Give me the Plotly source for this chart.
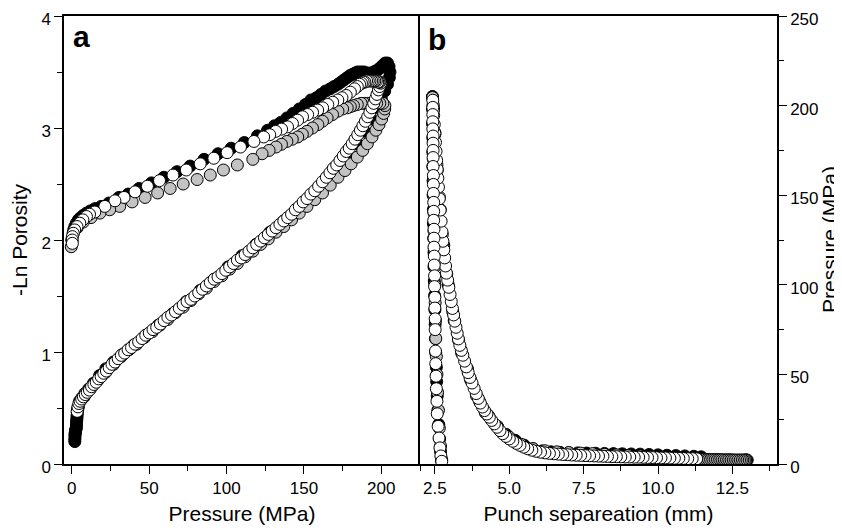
import plotly.graph_objects as go

# ---------------- Panel a : -Ln Porosity vs Pressure (MPa) ----------------
# black series
a_black_load_p = [2.0, 2.0, 2.1, 2.1, 2.2, 2.3, 2.4, 2.5, 2.7, 2.9, 3.0, 3.1, 3.2, 3.3, 3.4, 3.5, 3.6, 3.8,
                  4.2, 5, 6.5, 8.5, 11, 14, 18, 22, 27, 33, 40, 48, 56, 65, 74, 83, 92, 101, 110, 119, 128,
                  137, 146, 155, 163, 171, 178, 184, 189, 193.5, 197, 200, 202.2, 204, 205.2, 205.6]
a_black_load_y = [0.20, 0.22, 0.24, 0.26, 0.27, 0.28, 0.29, 0.30, 0.31, 0.32, 0.34, 0.36, 0.38, 0.40, 0.42, 0.44, 0.46, 0.48,
                  0.51, 0.56, 0.59, 0.63, 0.67, 0.72, 0.79, 0.85, 0.91, 0.98, 1.06, 1.15, 1.24, 1.34, 1.45, 1.55, 1.65, 1.76, 1.86, 1.96, 2.07,
                  2.17, 2.28, 2.39, 2.51, 2.62, 2.74, 2.86, 2.97, 3.08, 3.18, 3.26, 3.33, 3.39, 3.45, 3.50]
a_black_unload_p = [205.0, 204.0, 202.5, 201, 199.5, 198, 196.5, 195, 193.5, 192, 190.5, 189, 187.5, 186, 184.5, 183,
                    181.5, 180, 178, 176, 174, 172, 169.5, 167, 164, 161, 158, 154.5, 151, 147, 143, 139, 135, 131,
                    126.5, 120, 111.5, 103, 94.5, 85.5, 76.5, 68, 59.5, 51.5, 43.5, 36.5, 30.5, 24, 19, 15, 12, 9.5,
                    7.5, 5.8, 4.3, 3.0, 2.0, 1.3]
a_black_unload_y = [3.55, 3.58, 3.58, 3.56, 3.54, 3.52, 3.51, 3.50, 3.49, 3.49, 3.49, 3.50, 3.50, 3.50, 3.50, 3.49,
                    3.48, 3.47, 3.45, 3.43, 3.41, 3.39, 3.37, 3.35, 3.33, 3.30, 3.27, 3.25, 3.21, 3.17, 3.13, 3.09, 3.05, 3.02,
                    2.98, 2.93, 2.87, 2.82, 2.77, 2.72, 2.66, 2.61, 2.56, 2.51, 2.46, 2.41, 2.38, 2.33, 2.30, 2.28, 2.26, 2.24,
                    2.22, 2.20, 2.18, 2.15, 2.12, 2.09]

# grey series
a_grey_load_p = [4, 8, 12, 17, 22, 27, 32, 37, 42, 47, 52, 57, 62, 67, 72, 77, 82, 87, 92, 97, 102, 107, 112, 117,
                 122, 127, 132, 137, 142, 147, 152, 157, 162, 167, 172, 176.5, 180.5, 184.5, 188, 191, 194, 196.5,
                 198.5, 200.2, 201.5, 202.2, 202.3]
a_grey_load_y = [0.50, 0.60, 0.67, 0.75, 0.82, 0.89, 0.96, 1.02, 1.07, 1.13, 1.18, 1.24, 1.29, 1.35, 1.40, 1.46, 1.52,
                 1.57, 1.63, 1.68, 1.74, 1.79, 1.85, 1.90, 1.96, 2.01, 2.07, 2.12, 2.18, 2.24, 2.30, 2.36, 2.42, 2.49,
                 2.56, 2.62, 2.68, 2.74, 2.80, 2.86, 2.92, 2.98, 3.03, 3.08, 3.13, 3.17, 3.20]
a_grey_unload_p = [201, 199, 197, 195, 193, 191, 189, 187, 184.5, 182, 180, 178, 175, 172, 168.5, 165, 162, 159,
                   155.5, 152, 149, 146, 142.5, 139, 135.5, 132, 127.5, 123, 117, 107, 98, 89.5, 81, 72, 63.6, 55.5,
                   47.4, 39, 31, 24.5, 18.2, 12.5, 7.4, 3.5, 0.9, 0.0, -0.3]
a_grey_unload_y = [3.22, 3.22, 3.22, 3.22, 3.22, 3.22, 3.22, 3.22, 3.21, 3.20, 3.19, 3.18, 3.17, 3.15, 3.12, 3.09, 3.06, 3.03,
                   3.00, 2.97, 2.945, 2.92, 2.90, 2.88, 2.855, 2.83, 2.80, 2.77, 2.72, 2.67, 2.625, 2.58, 2.54, 2.50, 2.46, 2.42,
                   2.38, 2.34, 2.30, 2.27, 2.24, 2.20, 2.16, 2.11, 2.06, 2.00, 1.94]

# white (open) series
a_white_load_p = [3.5, 4.0, 4.6, 5.4, 6.4, 7.5, 8.7, 10.0, 11.4, 12.8, 14.3, 15.8, 17.4, 19.0, 20.7, 22.4, 24.2, 26.0,
                  28.0, 30.0, 32.0, 34.2, 36.4, 38.6, 40.9, 43.2, 45.5, 47.8, 50.1, 52.5, 54.9, 57.3, 59.7, 62.1, 64.5,
                  67.0, 69.5, 72.0, 74.5, 77.0, 79.5, 82.0, 84.5, 87.0, 89.5, 92.0, 94.5, 97.0, 99.5, 102.0, 104.5,
                  107.0, 109.5, 112.0, 114.5, 117.0, 119.5, 122.0, 124.5, 127.0, 129.5, 132.0, 134.5, 137.0, 139.5,
                  142.0, 144.5, 147.0, 149.5, 152.0, 154.5, 157.0, 159.5, 162.0, 164.5, 166.8, 169.0, 171.2, 173.3,
                  175.4, 177.4, 179.3, 181.2, 183.0, 184.8, 186.5, 188.1, 189.7, 191.2, 192.6, 193.9, 195.1, 196.2,
                  197.2, 198.1, 198.9, 199.7]
a_white_load_y = [0.47, 0.51, 0.54, 0.56, 0.58, 0.60, 0.62, 0.64, 0.66, 0.69, 0.71, 0.73, 0.76, 0.78, 0.81, 0.83, 0.86, 0.89,
                  0.91, 0.94, 0.97, 0.99, 1.02, 1.04, 1.07, 1.09, 1.12, 1.15, 1.17, 1.20, 1.22, 1.25, 1.28, 1.31, 1.33,
                  1.36, 1.39, 1.42, 1.45, 1.47, 1.50, 1.53, 1.56, 1.59, 1.62, 1.65, 1.67, 1.70, 1.73, 1.76, 1.79,
                  1.82, 1.84, 1.87, 1.90, 1.93, 1.96, 1.99, 2.02, 2.05, 2.08, 2.11, 2.14, 2.17, 2.20,
                  2.23, 2.27, 2.30, 2.34, 2.37, 2.41, 2.44, 2.48, 2.52, 2.56, 2.60, 2.64, 2.67, 2.71,
                  2.75, 2.79, 2.82, 2.86, 2.90, 2.94, 2.98, 3.02, 3.06, 3.10, 3.14, 3.18, 3.22, 3.26,
                  3.30, 3.34, 3.37, 3.40]
a_white_unload_p = [199.2, 198.5, 197.7, 196.8, 195.8, 194.8, 193.8, 192.7, 191.6, 190.5, 189.4, 188.3, 187.2, 186.0,
                    184.5, 182.7, 180.0, 177.3, 174.6, 171.9, 168.6, 165.4, 162.1, 158.9, 155.6, 152.4, 149.1, 145.9,
                    142.6, 139.4, 135.6, 131.8, 127.9, 124.0, 117.7, 109.0, 100.4, 91.8, 83.0, 74.0, 65.4, 56.7, 48.9,
                    40.9, 33.8, 27.9, 21.4, 14.9, 11.5, 9.5, 7.2, 5.2, 3.4, 1.9, 1.0, 0.4, 0.3, 0.4]
a_white_unload_y = [3.41, 3.41, 3.41, 3.42, 3.42, 3.42, 3.42, 3.42, 3.42, 3.42, 3.41, 3.41, 3.40, 3.39,
                    3.37, 3.35, 3.32, 3.29, 3.27, 3.25, 3.23, 3.21, 3.18, 3.16, 3.14, 3.12, 3.10, 3.07,
                    3.04, 3.01, 2.99, 2.97, 2.94, 2.92, 2.88, 2.83, 2.78, 2.73, 2.68, 2.625, 2.58, 2.53, 2.48,
                    2.43, 2.38, 2.35, 2.30, 2.25, 2.23, 2.21, 2.18, 2.15, 2.12, 2.09, 2.06, 2.03, 2.00, 1.97]

# ---------------- Panel b : Pressure (MPa) vs Punch separation (mm) ----------------
b_black_comp_s = [11.45, 11.2, 10.9, 10.6, 10.3, 10.0, 9.7, 9.4, 9.1, 8.8, 8.5, 8.2, 7.9, 7.6, 7.3, 7.0, 6.7, 6.4,
                  6.1, 5.8, 5.5, 5.2, 4.9, 4.6, 4.3, 4.0, 3.7, 3.4, 3.15, 2.95, 2.8, 2.68, 2.58, 2.5, 2.45, 2.42]
b_black_comp_p = [4.0, 4.3, 4.5, 4.7, 4.9, 5.1, 5.3, 5.5, 5.6, 5.7, 5.8, 5.9, 6.0, 6.1, 6.2, 6.3, 6.5, 6.8,
                  7.3, 8.5, 10.5, 13.2, 16.5, 21, 27, 35, 47, 62, 80, 100, 122, 142, 164, 184, 198, 205]
b_black_dec_s = [2.42, 2.42, 2.42, 2.43, 2.43, 2.43, 2.44, 2.44, 2.45, 2.45, 2.46, 2.47, 2.47, 2.48, 2.49, 2.50,
                 2.51, 2.52, 2.53, 2.55, 2.56, 2.58, 2.60, 2.63, 2.66, 2.69, 2.72]
b_black_dec_p = [205, 198, 190, 182, 174, 166, 158, 150, 142, 134, 126, 118, 110, 102, 94, 86,
                 78, 70, 62, 54, 46, 38, 30, 22, 14, 7, 2]

b_grey_comp_s = [13.00, 12.98, 12.96, 12.94, 12.90, 12.85, 12.80, 12.74, 12.68, 12.62, 12.56, 12.50, 12.44, 12.38,
                 12.32, 12.26, 12.20, 12.14, 12.08, 12.02, 11.96, 11.90, 11.84, 11.78, 11.72, 11.66, 11.60, 11.54,
                 11.48, 11.42, 11.36, 11.30, 11.0, 10.6, 10.2, 9.8, 9.4, 9.0, 8.6, 8.2, 7.8, 7.4, 7.0, 6.6, 6.2,
                 5.8, 5.4, 5.0, 4.6, 4.2, 3.9, 3.6, 3.3, 3.1, 2.9, 2.75, 2.65, 2.57, 2.5, 2.45, 2.42]
b_grey_comp_p = [2.2, 2.2, 2.2, 2.2, 2.2, 2.2, 2.2, 2.2, 2.2, 2.2, 2.2, 2.3, 2.3, 2.3,
                 2.3, 2.3, 2.3, 2.3, 2.4, 2.4, 2.4, 2.4, 2.4, 2.4, 2.5, 2.5, 2.5, 2.5,
                 2.5, 2.6, 2.6, 2.6, 3.2, 3.5, 3.8, 4.2, 4.5, 4.8, 5.1, 5.4, 5.8, 6.1, 6.4, 6.8, 7.4,
                 8.6, 11.0, 15.0, 21.0, 28.5, 38, 53, 69, 85, 106, 128, 149, 167, 185, 198, 204.5]
b_grey_dec_s = [2.44, 2.44, 2.45, 2.45, 2.46, 2.46, 2.47, 2.47, 2.48, 2.49, 2.50, 2.51, 2.52, 2.53, 2.55, 2.57,
                2.59, 2.62, 2.65, 2.69, 2.73]
b_grey_dec_p = [200, 190, 180, 170, 160, 150, 140, 130, 120, 110, 100, 90, 80, 70, 60, 50,
                40, 30, 20, 10, 2.5]

b_white_comp_s = [11.30, 11.15, 11.00, 10.85, 10.70, 10.55, 10.40, 10.25, 10.10, 9.95, 9.80, 9.65, 9.50, 9.35, 9.20,
                  9.05, 8.90, 8.75, 8.60, 8.45, 8.30, 8.15, 8.00, 7.85, 7.70, 7.55, 7.40, 7.25, 7.10, 6.95, 6.80,
                  6.65, 6.50, 6.35, 6.20, 6.05, 5.90, 5.76, 5.62, 5.49, 5.36, 5.24, 5.12, 5.00, 4.89, 4.78, 4.69,
                  4.59, 4.50, 4.41, 4.33, 4.25, 4.17, 4.10, 4.03, 3.96, 3.89, 3.82, 3.75, 3.68, 3.62, 3.56, 3.50,
                  3.44, 3.39, 3.34, 3.29, 3.25, 3.21, 3.17, 3.13, 3.09, 3.05, 3.01, 2.97, 2.93, 2.89, 2.86, 2.83,
                  2.80, 2.77, 2.74, 2.71, 2.68, 2.65, 2.62, 2.60, 2.58, 2.56, 2.54, 2.52, 2.50, 2.48, 2.46, 2.45,
                  2.44, 2.43]
b_white_comp_p = [2.9, 3.0, 3.0, 3.1, 3.2, 3.2, 3.3, 3.4, 3.4, 3.5, 3.6, 3.6, 3.7, 3.8, 3.8,
                  3.9, 3.9, 4.0, 4.1, 4.1, 4.2, 4.3, 4.4, 4.5, 4.6, 4.7, 4.8, 4.9, 5.0, 5.2, 5.3,
                  5.5, 5.7, 5.9, 6.2, 6.6, 7.1, 7.7, 8.5, 9.4, 10.4, 11.5, 12.7, 14.0, 15.4, 16.9, 18.6,
                  20.5, 22.4, 24.3, 26.1, 27.9, 29.8, 31.8, 34.0, 36.6, 39.3, 42.2, 45.2, 48.3, 51.0, 54.2, 57.4,
                  60.7, 63.4, 66.2, 69.8, 73.0, 76.3, 79.7, 83.2, 86.8, 90.6, 94.6, 98.6, 102.6, 106.5, 110.5, 115.0,
                  119.5, 124.3, 129.5, 135.5, 141.7, 148.0, 154.5, 159.5, 164.5, 169.5, 174.5, 179.5, 184.5, 189.5, 194.5, 197.5,
                  200.5, 203.0]
b_white_dec_s = [2.43, 2.43, 2.43, 2.43, 2.44, 2.44, 2.44, 2.44, 2.44, 2.45, 2.45, 2.45, 2.46, 2.46, 2.46, 2.47,
                 2.47, 2.47, 2.48, 2.48, 2.49, 2.49, 2.50, 2.50, 2.51, 2.51, 2.52, 2.53, 2.54, 2.55, 2.57, 2.58,
                 2.61, 2.64, 2.67, 2.70, 2.73]
b_white_dec_p = [199, 195, 191, 187, 183, 179, 175, 171, 166, 161, 156, 151, 146, 141, 136, 131,
                 126, 121, 116, 111, 105, 99, 93, 87, 81, 75, 63, 56, 49, 42, 35, 28,
                 21, 14.5, 9, 4.5, 1.5]

GREY = "#c3c3c3"


def mk(x, y, fill, xa, ya):
    return go.Scatter(x=x, y=y, xaxis=xa, yaxis=ya, mode="markers", hoverinfo="skip",
                      marker=dict(symbol="circle", size=12, color=fill,
                                  line=dict(color="black", width=1)))


fig = go.Figure()
# panel a
fig.add_trace(mk(a_black_load_p, a_black_load_y, "black", "x", "y"))
fig.add_trace(mk(a_black_unload_p, a_black_unload_y, "black", "x", "y"))
fig.add_trace(mk(a_grey_load_p, a_grey_load_y, GREY, "x", "y"))
fig.add_trace(mk(a_grey_unload_p, a_grey_unload_y, GREY, "x", "y"))
fig.add_trace(mk(a_white_load_p, a_white_load_y, "white", "x", "y"))
fig.add_trace(mk(a_white_unload_p, a_white_unload_y, "white", "x", "y"))
# panel b
fig.add_trace(mk(b_black_comp_s, b_black_comp_p, "black", "x2", "y2"))
fig.add_trace(mk(b_black_dec_s, b_black_dec_p, "black", "x2", "y2"))
fig.add_trace(mk(b_grey_comp_s, b_grey_comp_p, GREY, "x2", "y2"))
fig.add_trace(mk(b_grey_dec_s, b_grey_dec_p, GREY, "x2", "y2"))
fig.add_trace(mk(b_white_comp_s, b_white_comp_p, "white", "x2", "y2"))
fig.add_trace(mk(b_white_dec_s, b_white_dec_p, "white", "x2", "y2"))

FONT = "Liberation Sans, Arial, Helvetica, sans-serif"
common = dict(showline=True, linecolor="black", linewidth=1.5, showgrid=False, zeroline=False,
              automargin=False, ticklabeloverflow="allow",
              ticks="outside", ticklen=8, tickwidth=1.3, tickcolor="black",
              tickfont=dict(family=FONT, size=17, color="black"))
MINOR = dict(ticklen=5, tickwidth=1.3, tickcolor="black", ticks="outside")
split = 356 / 713

# the page adds an 8 px body margin, so the figure is 8 px smaller and the
# margins are reduced accordingly on the left/top
PLOT_W = 834 - 56 - 65
fig.update_layout(
    width=834, height=522,
    margin=dict(l=56, r=65, t=8, b=66, autoexpand=False),
    paper_bgcolor="white", plot_bgcolor="white",
    showlegend=False,
    font=dict(family=FONT, size=17, color="black"),
    xaxis=dict(domain=[0, split], anchor="y", range=[-5, 225], tick0=0, dtick=50, mirror=True,
               minor=dict(dtick=25, **MINOR),
               title=dict(text="Pressure (MPa)", font=dict(family=FONT, size=21), standoff=9), **common),
    yaxis=dict(domain=[0, 1], anchor="x", range=[0, 4], tick0=0, dtick=1, mirror=False, ticklabelshift=3,
               minor=dict(dtick=0.5, **MINOR),
               title=dict(text="-Ln Porosity", font=dict(family=FONT, size=21), standoff=15), **common),
    xaxis2=dict(domain=[split, 1], anchor="y2", range=[2, 14], tick0=0, dtick=2.5, tickformat=".1f", mirror=True,
                minor=dict(dtick=1.25, **MINOR),
                title=dict(text="Punch separeation (mm)", font=dict(family=FONT, size=21), standoff=9), **common),
    yaxis2=dict(domain=[0, 1], anchor="x2", side="right", range=[0, 250], tick0=0, dtick=50, mirror=True,
                ticklabelshift=3, minor=dict(dtick=25, **MINOR), **common),
    annotations=[
        dict(text="<b>a</b>", x=0.0105, y=0.954, xref="paper", yref="paper", xanchor="left", yanchor="middle",
             showarrow=False, font=dict(family=FONT, size=30, color="black")),
        dict(text="<b>b</b>", x=0.5084, y=0.947, xref="paper", yref="paper", xanchor="left", yanchor="middle",
             showarrow=False, font=dict(family=FONT, size=30, color="black")),
        dict(text="Pressure (MPa)", textangle=-90, x=1 + (821 - 56 - PLOT_W) / PLOT_W, y=0.5,
             xref="paper", yref="paper", xanchor="center", yanchor="middle",
             showarrow=False, font=dict(family=FONT, size=21, color="black")),
    ],
)

fig.write_html("out.html")
